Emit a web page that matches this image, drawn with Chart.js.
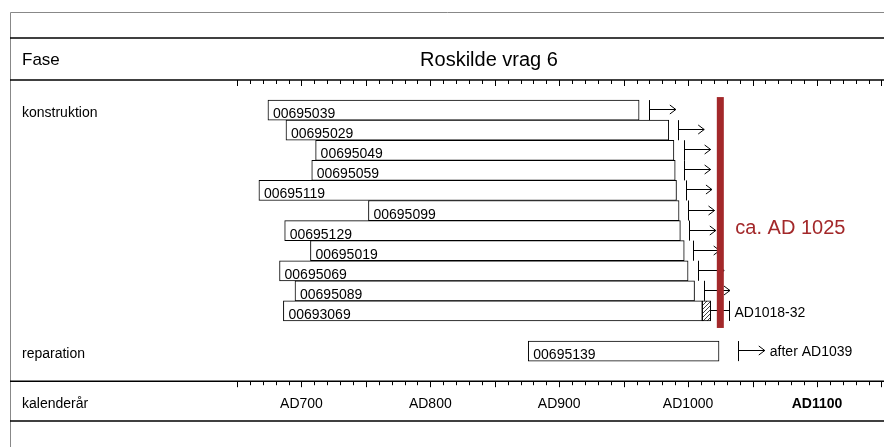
<!DOCTYPE html>
<html>
<head>
<meta charset="utf-8">
<title>Roskilde vrag 6</title>
<script src="https://cdn.jsdelivr.net/npm/chart.js@4"></script>
<style>
  html, body { margin: 0; padding: 0; background: #fff; }
</style>
</head>
<body>
<canvas id="myChart" width="884" height="447"></canvas>
<script>
var ctx = document.getElementById('myChart').getContext('2d');

// sample ids, one bar each
var samples = ["00695039", "00695029", "00695049", "00695059", "00695119", "00695099",
               "00695129", "00695019", "00695069", "00695089", "00693069", "00695139"];
// row of each bar (row 0 is the empty one under the top axis)
var rows = [1, 2, 3, 4, 5, 6, 7, 8, 9, 10, 11, 13];
// first and last measured ring
var firstYear = [674, 688, 711, 708, 667, 752, 687, 707, 683, 695, 686, 876];
var lastYear = [962, 985, 989, 990, 991, 993, 994, 997, 1000, 1005, 1011, 1024];
// felling after this year (start of the arrow), null = no arrow
var fellingAfter = [970, 992, 997, 997, 998, 1000, 1001, 1004, 1007.5, 1012, null, 1039];
// sapwood and felling span of 00693069
var sapwood = [1011, 1017.5];
var fellingSpan = [1018, 1032];
var dating = 1025;

var phases = ["", "konstruktion", "", "", "", "", "", "", "", "", "", "", "", "reparation", ""];
var tickYears = [700, 800, 900, 1000, 1100];
var tickLabels = ["AD700", "AD800", "AD900", "AD1000", "AD1100"];

var red = "#a3282a";
var font = "'Liberation Sans', Arial, Helvetica, sans-serif";
Chart.defaults.font.family = font;
Chart.defaults.color = "#000";

var heart = phases.map(function () { return null; });
samples.forEach(function (s, i) { heart[rows[i]] = [firstYear[i], lastYear[i]]; });
var sap = phases.map(function () { return null; });
sap[11] = sapwood;

function hatch() {
    var c = document.createElement('canvas');
    c.width = 4; c.height = 4;
    var g = c.getContext('2d');
    g.fillStyle = "#fff";
    g.fillRect(0, 0, 4, 4);
    g.strokeStyle = "#444";
    g.lineWidth = 1;
    g.beginPath();
    g.moveTo(0, 4); g.lineTo(4, 0);
    g.moveTo(-1, 1); g.lineTo(1, -1);
    g.moveTo(3, 5); g.lineTo(5, 3);
    g.stroke();
    return g.createPattern(c, 'repeat');
}

function line(c, x0, y0, x1, y1) {
    c.beginPath();
    c.moveTo(x0, y0);
    c.lineTo(x1, y1);
    c.stroke();
}

var extras = {
    id: 'extras',
    beforeDraw: function (chart) {
        var c = chart.ctx, a = chart.chartArea;
        c.save();
        c.fillStyle = "#fff";
        c.fillRect(0, 0, chart.width, chart.height);
        c.strokeStyle = "#888";
        c.lineWidth = 1;
        c.beginPath();
        c.moveTo(10.5, chart.height);
        c.lineTo(10.5, 12.5);
        c.lineTo(chart.width, 12.5);
        c.stroke();
        c.strokeStyle = "#000";
        c.lineWidth = 1.5;
        [38, a.top, a.bottom, 421].forEach(function (y) { line(c, 10, y, chart.width, y); });
        c.restore();
    },
    afterDatasetsDraw: function (chart) {
        var c = chart.ctx, a = chart.chartArea;
        var xs = chart.scales.x;
        var meta = chart.getDatasetMeta(0);
        c.save();

        // tick marks on both axis lines
        c.strokeStyle = "#000";
        c.lineWidth = 1;
        for (var yr = 650; yr <= 1150; yr += 10) {
            var tx = Math.round(xs.getPixelForValue(yr)) + 0.5;
            var len = yr % 50 === 0 ? 6 : 4;
            line(c, tx, a.top, tx, a.top + len);
            line(c, tx, a.bottom, tx, a.bottom + len);
        }

        // sample ids inside the bars
        c.font = "14px " + font;
        c.fillStyle = "#000";
        c.textBaseline = "alphabetic";
        samples.forEach(function (s, i) {
            var el = meta.data[rows[i]];
            c.fillText(s, Math.min(el.base, el.x) + 5, el.y + 8);
        });

        // felling-after arrows
        samples.forEach(function (s, i) {
            if (fellingAfter[i] === null) return;
            var el = meta.data[rows[i]];
            var h = el.height / 2;
            var x0 = Math.round(xs.getPixelForValue(fellingAfter[i])) + 0.5;
            var x1 = xs.getPixelForValue(fellingAfter[i] + 20.5);
            var y = Math.round(el.y) - 0.5;
            line(c, x0, el.y - h, x0, el.y + h);
            line(c, x0, y, x1, y);
            c.beginPath();
            c.moveTo(x1 - 6, y - 4.5);
            c.lineTo(x1, y);
            c.lineTo(x1 - 6, y + 4.5);
            c.stroke();
        });

        // felling span of 00693069
        var el11 = meta.data[11];
        var sx0 = xs.getPixelForValue(sapwood[1]);
        var sx1 = Math.round(xs.getPixelForValue(fellingSpan[1])) + 0.5;
        line(c, sx0, Math.round(el11.y) - 0.5, sx1, Math.round(el11.y) - 0.5);
        line(c, sx1, el11.y - el11.height / 2, sx1, el11.y + el11.height / 2);
        c.textBaseline = "middle";
        c.fillText("AD" + fellingSpan[0] + "-" + String(fellingSpan[1]).slice(2), sx1 + 5, el11.y + 2);

        // reparation note
        var elR = meta.data[13];
        c.fillText("after AD" + fellingAfter[11], xs.getPixelForValue(fellingAfter[11] + 20.5) + 5, elR.y + 1);

        // dating line
        var rx = xs.getPixelForValue(dating);
        var top = meta.data[1].y - meta.data[1].height / 2 - 3;
        var bottom = el11.y + el11.height / 2 + 7;
        c.fillStyle = red;
        c.fillRect(rx - 3.5, top, 7, bottom - top);
        c.font = "20px " + font;
        c.textBaseline = "middle";
        c.fillText("ca. AD " + dating, rx + 15, 228);

        // header row
        c.fillStyle = "#000";
        c.font = "17px " + font;
        c.fillText("Fase", 22, 60);
        c.font = "20px " + font;
        c.textAlign = "center";
        c.fillText("Roskilde vrag 6", 489, 60);
        c.textAlign = "left";
        c.font = "14px " + font;
        c.fillText("kalenderår", 22, 404);
        c.restore();
    }
};

var myChart = new Chart(ctx, {
    type: 'bar',
    data: {
        labels: phases,
        datasets: [{
            data: heart,
            backgroundColor: "#fff",
            borderColor: "#000",
            borderWidth: 1,
            borderSkipped: false,
            grouped: false,
            barPercentage: 1,
            categoryPercentage: 1
        },
        {
            data: sap,
            backgroundColor: hatch(),
            borderColor: "#000",
            borderWidth: 1,
            borderSkipped: false,
            grouped: false,
            barPercentage: 1,
            categoryPercentage: 1
        }]
    },
    options: {
        indexAxis: 'y',
        responsive: false,
        animation: false,
        layout: { padding: { left: 22, right: 0, top: 80, bottom: 19 } },
        plugins: {
            legend: { display: false },
            tooltip: { enabled: false }
        },
        scales: {
            x: {
                type: 'linear',
                position: 'bottom',
                min: 650,
                max: 1152,
                grid: { display: false, drawTicks: false },
                border: { display: false },
                afterBuildTicks: function (axis) {
                    axis.ticks = tickYears.map(function (v) { return { value: v }; });
                },
                ticks: {
                    padding: 15,
                    autoSkip: false,
                    maxRotation: 0,
                    font: function (c) {
                        return { size: 14, weight: c.tick && c.tick.value === 1100 ? 'bold' : 'normal' };
                    },
                    callback: function (v) {
                        var i = tickYears.indexOf(v);
                        return i < 0 ? "" : tickLabels[i];
                    }
                }
            },
            y: {
                type: 'category',
                position: 'left',
                grid: { display: false, drawTicks: false },
                border: { display: false },
                afterFit: function (scale) { scale.width = 215; },
                ticks: {
                    crossAlign: 'far',
                    padding: 0,
                    autoSkip: false,
                    labelOffset: 3,
                    font: { size: 14 }
                }
            }
        }
    },
    plugins: [extras]
});
</script>
</body>
</html>
